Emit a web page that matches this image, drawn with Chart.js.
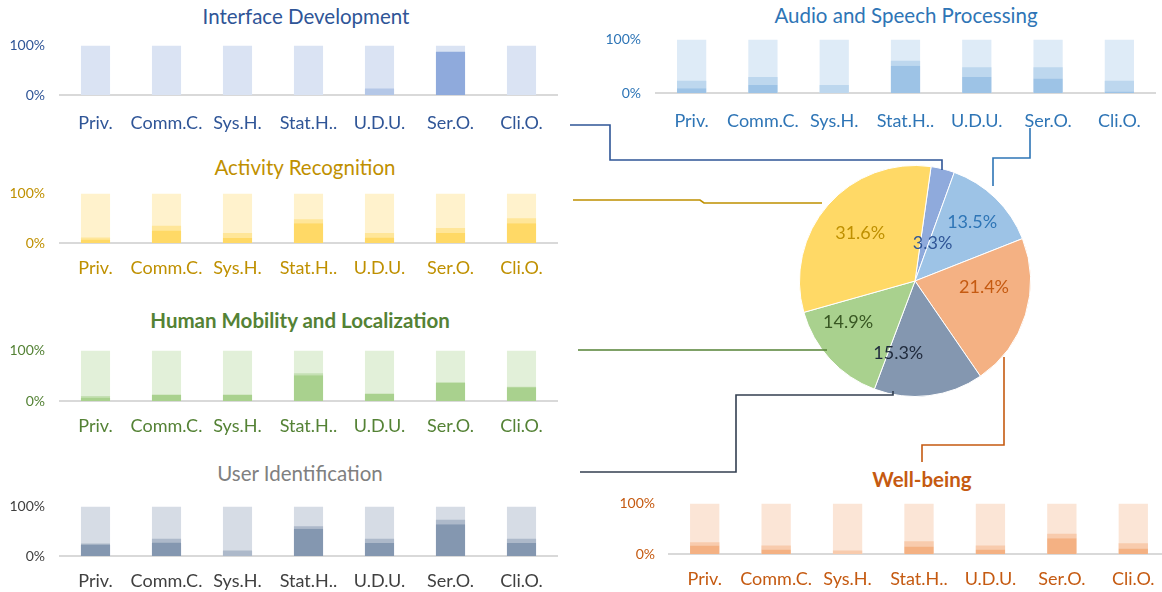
<!DOCTYPE html>
<html>
<head>
<meta charset="utf-8">
<script src="https://cdn.jsdelivr.net/npm/chart.js@4.4.1/dist/chart.umd.min.js"></script>
<style>
    html, body { margin: 0; padding: 0; background: #fff; overflow: hidden; width: 1162px; height: 592px; }
    canvas { position: absolute; }
    .title { position: absolute; font-family: Lato, sans-serif; font-size: 20.5px; transform: translate(-50%, -50%); white-space: nowrap; }
    .bold { font-weight: bold; }
    svg { position: absolute; left: 0; top: 0; }
</style>
</head>
<body>

<div class="title" style="left:306px;top:16px;color:#2f5597">Interface Development</div>
<div class="title" style="left:906px;top:15px;color:#2e75b6">Audio and Speech Processing</div>
<div class="title" style="left:305px;top:167px;color:#bf9000">Activity Recognition</div>
<div class="title bold" style="left:300px;top:320px;color:#548235">Human Mobility and Localization</div>
<div class="title" style="left:300px;top:473px;color:#808080">User Identification</div>
<div class="title bold" style="left:922px;top:479px;color:#c55a11">Well-being</div>

<canvas id="interfaceChart" width="570" height="113" style="left:0;top:22px"></canvas>
<canvas id="audioChart" width="562" height="117" style="left:600px;top:16px"></canvas>
<canvas id="activityChart" width="570" height="113" style="left:0;top:170px"></canvas>
<canvas id="mobilityChart" width="570" height="114" style="left:0;top:327px"></canvas>
<canvas id="userChart" width="570" height="113" style="left:0;top:483px"></canvas>
<canvas id="wellbeingChart" width="569" height="113" style="left:600px;top:481px"></canvas>
<canvas id="pieChart" width="240" height="240" style="left:795px;top:161px"></canvas>

<!-- connector lines from each panel to its slice -->
<svg width="1162" height="592" fill="none" stroke-width="1.6">
    <polyline points="570,125 610,125 610,160 942,160 942,170" stroke="#2f5597"/>
    <polyline points="1030,128 1030,158 993,158 993,186" stroke="#2e75b6"/>
    <polyline points="573,200 700,200 704,203 822,203" stroke="#bf9000"/>
    <polyline points="578,350 827,350" stroke="#548235"/>
    <polyline points="580,472 736,472 736,395 893,395 893,391" stroke="#333f50"/>
    <polyline points="922,462 922,445 1004,445 1004,357" stroke="#c55a11"/>
</svg>

<script>
// Categories and ticks
const categories = ['Priv.', 'Comm.C.', 'Sys.H.', 'Stat.H..', 'U.D.U.', 'Ser.O.', 'Cli.O.'];
const tickValues = [0, 100];
const fullRange = [100, 100, 100, 100, 100, 100, 100];

// Share (%) per category: dark = full, medium = partial
const interfaceFull = [0, 0, 0, 0, 0, 87, 0];
const interfacePartial = [0, 0, 0, 0, 13, 0, 0];
const audioFull = [9, 15, 0, 51, 30, 27, 3];
const audioPartial = [14, 15, 15, 9, 18, 21, 20];
const activityFull = [7, 25, 10, 40, 11, 20, 40];
const activityPartial = [4, 10, 10, 8, 9, 10, 10];
const mobilityFull = [7, 12, 12, 51, 14, 36, 27];
const mobilityPartial = [3, 1, 1, 4, 1, 1, 1];
const userFull = [23, 27, 0, 55, 26, 64, 26];
const userPartial = [2, 8, 11, 5, 9, 9, 9];
const wellbeingFull = [17, 9, 0, 15, 9, 31, 11];
const wellbeingPartial = [6, 8, 7, 10, 8, 9, 10];

// Pie data
const pieLabels = ['Interface Development', 'Audio and Speech Processing', 'Well-being',
    'User Identification', 'Human Mobility and Localization', 'Activity Recognition'];
const pieShares = [3.3, 13.5, 21.4, 15.3, 14.9, 31.6];

// Styles
const pieColors = ['#8faadc', '#9dc3e6', '#f4b183', '#8497b0', '#a9d18e', '#ffd966'];
const pieTextColors = ['#2f5597', '#2e75b6', '#c55a11', '#1f2a3c', '#385723', '#bf9000'];
// label placement: fraction of radius, angle shift in degrees
const pieLabelRadius = [0.36, 0.71, 0.6, 0.64, 0.68, 0.63];
const pieLabelShift = [11, 0, -12, 20, 11, 0];

function panelChart(id, full, partial, colors, layout) {
    return new Chart(document.getElementById(id), {
        type: 'bar',
        data: {
            labels: categories,
            datasets: [
                { data: full, backgroundColor: colors.full, stack: 'share' },
                { data: partial, backgroundColor: colors.partial, stack: 'share' },
                { data: fullRange, backgroundColor: colors.rest, stack: 'range', grouped: false }
            ]
        },
        options: {
            responsive: false,
            animation: false,
            layout: { padding: { top: 10, right: layout.right, left: 0, bottom: 0 } },
            datasets: { bar: { categoryPercentage: 1, barPercentage: 0.41 } },
            plugins: { legend: { display: false }, tooltip: { enabled: false } },
            scales: {
                x: {
                    stacked: true,
                    grid: { display: false, drawTicks: false },
                    border: { display: true, color: '#d9d9d9', width: 2 },
                    ticks: { color: colors.text, font: { family: 'Lato', size: 18 }, padding: layout.labelGap || 14, maxRotation: 0, autoSkip: false },
                    afterFit: s => { s.height = 40; }
                },
                y: {
                    stacked: true,
                    min: 0,
                    max: 100,
                    afterBuildTicks: s => { s.ticks = tickValues.map(v => ({ value: v })); },
                    grid: { display: false, drawTicks: false },
                    border: { display: false },
                    ticks: { color: colors.text, font: { family: 'Lato', size: 14 }, padding: layout.tickGap, callback: v => v + '%' },
                    afterFit: s => { s.width = layout.yWidth; }
                }
            }
        }
    });
}

const leftLayout = { right: 13, yWidth: 60, tickGap: 15 };

panelChart('interfaceChart', interfaceFull, interfacePartial,
    { full: '#8faadc', partial: '#b4c7e7', rest: '#dae3f3', text: '#2f5597' },
    { right: 13, yWidth: 60, tickGap: 15, labelGap: 17 });
panelChart('audioChart', audioFull, audioPartial,
    { full: '#9dc3e6', partial: '#bdd7ee', rest: '#deebf7', text: '#2e75b6' },
    { right: 7, yWidth: 56, tickGap: 15, labelGap: 17 });
panelChart('activityChart', activityFull, activityPartial,
    { full: '#ffd966', partial: '#ffe699', rest: '#fff2cc', text: '#bf9000' }, leftLayout);
panelChart('mobilityChart', mobilityFull, mobilityPartial,
    { full: '#a9d18e', partial: '#c5e0b4', rest: '#e2f0d9', text: '#548235' }, leftLayout);
panelChart('userChart', userFull, userPartial,
    { full: '#8497b0', partial: '#adb9ca', rest: '#d6dce5', text: '#404040' }, leftLayout);
panelChart('wellbeingChart', wellbeingFull, wellbeingPartial,
    { full: '#f4b183', partial: '#f8cbad', rest: '#fbe5d6', text: '#c55a11' },
    { right: 0, yWidth: 69, tickGap: 14 });

// Percentage labels on the pie
const pieLabelPlugin = {
    id: 'pieLabels',
    afterDatasetsDraw(chart) {
        const ctx = chart.ctx;
        chart.getDatasetMeta(0).data.forEach((arc, i) => {
            const mid = (arc.startAngle + arc.endAngle) / 2 + pieLabelShift[i] * Math.PI / 180;
            const r = arc.outerRadius * pieLabelRadius[i];
            ctx.save();
            ctx.font = '18px Lato';
            ctx.fillStyle = pieTextColors[i];
            ctx.textAlign = 'center';
            ctx.textBaseline = 'middle';
            ctx.fillText(pieShares[i].toFixed(1) + '%', arc.x + Math.cos(mid) * r, arc.y + Math.sin(mid) * r);
            ctx.restore();
        });
    }
};

new Chart(document.getElementById('pieChart'), {
    type: 'pie',
    data: {
        labels: pieLabels,
        datasets: [{ data: pieShares, backgroundColor: pieColors, borderColor: '#ffffff', borderWidth: 1 }]
    },
    options: {
        responsive: false,
        animation: false,
        rotation: 8,
        layout: { padding: 4 },
        plugins: { legend: { display: false }, tooltip: { enabled: false } }
    },
    plugins: [pieLabelPlugin]
});
</script>
</body>
</html>
